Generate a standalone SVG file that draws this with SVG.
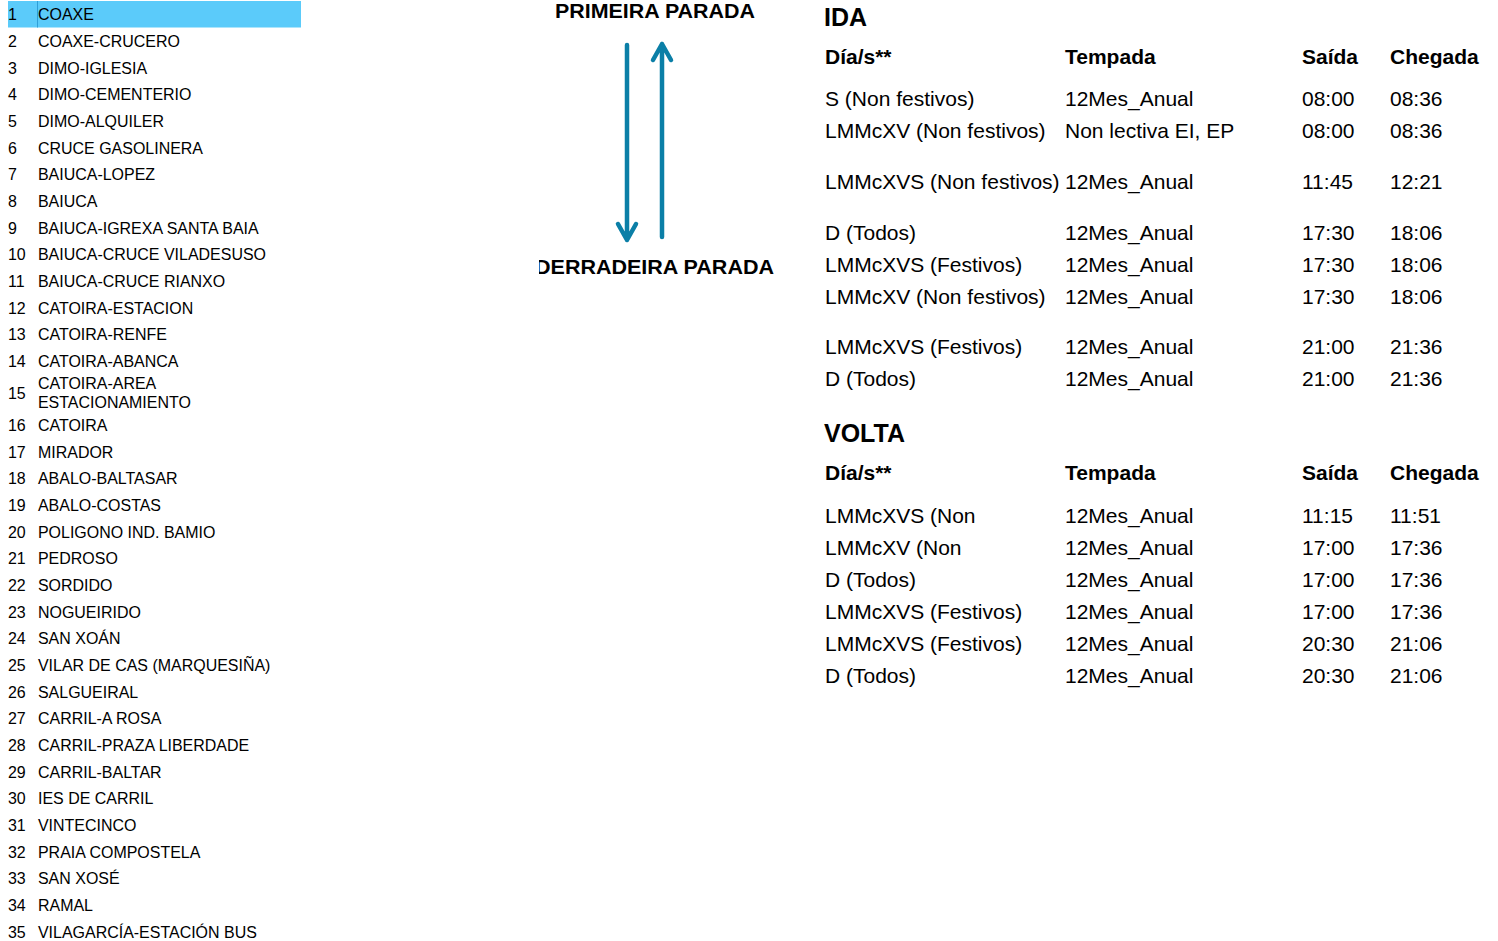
<svg xmlns="http://www.w3.org/2000/svg" width="1498" height="941" viewBox="0 0 1498 941">
<style>
.ls{font-family:"Liberation Sans",Arial,sans-serif;font-size:17px;fill:#000}
.t{font-family:"Liberation Sans",Arial,sans-serif;font-size:21px;fill:#000}
.h{font-family:"Liberation Sans",Arial,sans-serif;font-size:21px;font-weight:bold;fill:#000}
.ttl{font-family:"Liberation Sans",Arial,sans-serif;font-size:25px;font-weight:bold;fill:#000}
.lbl{font-family:"Liberation Sans",Arial,sans-serif;font-size:20px;font-weight:bold;fill:#000}
.arr{stroke:#0b7fa7;stroke-width:4.5;fill:none;stroke-linecap:round;stroke-linejoin:round}
</style>
<defs>
<clipPath id="clipL"><rect x="539" y="240" width="260" height="50"/></clipPath>
</defs>
<rect width="1498" height="941" fill="#fff"/>
<g id="stops">
<rect x="8" y="1" width="293" height="26.5" fill="#5bcbfa"/>
<line x1="37.5" y1="1" x2="37.5" y2="27.5" stroke="#2f9fd8" stroke-width="1"/>
<g transform="scale(0.94,1)">
<g class="ls">
<text x="8.5" y="20.5">1</text><text x="40.4" y="20.5">COAXE</text>
<text x="8.5" y="47.2">2</text><text x="40.4" y="47.2">COAXE-CRUCERO</text>
<text x="8.5" y="73.8">3</text><text x="40.4" y="73.8">DIMO-IGLESIA</text>
<text x="8.5" y="100.5">4</text><text x="40.4" y="100.5">DIMO-CEMENTERIO</text>
<text x="8.5" y="127.2">5</text><text x="40.4" y="127.2">DIMO-ALQUILER</text>
<text x="8.5" y="153.8">6</text><text x="40.4" y="153.8">CRUCE GASOLINERA</text>
<text x="8.5" y="180.5">7</text><text x="40.4" y="180.5">BAIUCA-LOPEZ</text>
<text x="8.5" y="207.2">8</text><text x="40.4" y="207.2">BAIUCA</text>
<text x="8.5" y="233.8">9</text><text x="40.4" y="233.8">BAIUCA-IGREXA SANTA BAIA</text>
<text x="8.5" y="260.5">10</text><text x="40.4" y="260.5">BAIUCA-CRUCE VILADESUSO</text>
<text x="8.5" y="287.2">11</text><text x="40.4" y="287.2">BAIUCA-CRUCE RIANXO</text>
<text x="8.5" y="313.8">12</text><text x="40.4" y="313.8">CATOIRA-ESTACION</text>
<text x="8.5" y="340.5">13</text><text x="40.4" y="340.5">CATOIRA-RENFE</text>
<text x="8.5" y="367.2">14</text><text x="40.4" y="367.2">CATOIRA-ABANCA</text>
<text x="8.5" y="399.5">15</text><text x="40.4" y="389">CATOIRA-AREA</text><text x="40.4" y="408">ESTACIONAMIENTO</text>
<text x="8.5" y="431">16</text><text x="40.4" y="431">CATOIRA</text>
<text x="8.5" y="457.7">17</text><text x="40.4" y="457.7">MIRADOR</text>
<text x="8.5" y="484.4">18</text><text x="40.4" y="484.4">ABALO-BALTASAR</text>
<text x="8.5" y="511">19</text><text x="40.4" y="511">ABALO-COSTAS</text>
<text x="8.5" y="537.7">20</text><text x="40.4" y="537.7">POLIGONO IND. BAMIO</text>
<text x="8.5" y="564.4">21</text><text x="40.4" y="564.4">PEDROSO</text>
<text x="8.5" y="591">22</text><text x="40.4" y="591">SORDIDO</text>
<text x="8.5" y="617.7">23</text><text x="40.4" y="617.7">NOGUEIRIDO</text>
<text x="8.5" y="644.4">24</text><text x="40.4" y="644.4">SAN XOÁN</text>
<text x="8.5" y="671">25</text><text x="40.4" y="671">VILAR DE CAS (MARQUESIÑA)</text>
<text x="8.5" y="697.7">26</text><text x="40.4" y="697.7">SALGUEIRAL</text>
<text x="8.5" y="724.4">27</text><text x="40.4" y="724.4">CARRIL-A ROSA</text>
<text x="8.5" y="751">28</text><text x="40.4" y="751">CARRIL-PRAZA LIBERDADE</text>
<text x="8.5" y="777.7">29</text><text x="40.4" y="777.7">CARRIL-BALTAR</text>
<text x="8.5" y="804.4">30</text><text x="40.4" y="804.4">IES DE CARRIL</text>
<text x="8.5" y="831">31</text><text x="40.4" y="831">VINTECINCO</text>
<text x="8.5" y="857.7">32</text><text x="40.4" y="857.7">PRAIA COMPOSTELA</text>
<text x="8.5" y="884.4">33</text><text x="40.4" y="884.4">SAN XOSÉ</text>
<text x="8.5" y="911">34</text><text x="40.4" y="911">RAMAL</text>
<text x="8.5" y="937.7">35</text><text x="40.4" y="937.7">VILAGARCÍA-ESTACIÓN BUS</text>
</g>
</g>
</g>
<g id="direction">
<text class="lbl" x="555" y="18" textLength="200" lengthAdjust="spacingAndGlyphs">PRIMEIRA PARADA</text>
<g clip-path="url(#clipL)"><text class="lbl" x="535" y="274" textLength="239" lengthAdjust="spacingAndGlyphs">DERRADEIRA PARADA</text></g>
</g>
<g id="connectors">
<path class="arr" d="M627 45 V240 M618 224 L627 240 L636 224"/>
<path class="arr" d="M662 237 V44 M653 60 L662 44 L671 60"/>
</g>
<g id="ida">
<text class="ttl" x="824" y="26">IDA</text>
<g class="h"><text x="825" y="64">Día/s**</text><text x="1065" y="64">Tempada</text><text x="1302" y="64">Saída</text><text x="1390" y="64">Chegada</text></g>
<g class="t">
<text x="825" y="106">S (Non festivos)</text><text x="1065" y="106">12Mes_Anual</text><text x="1302" y="106">08:00</text><text x="1390" y="106">08:36</text>
<text x="825" y="138">LMMcXV (Non festivos)</text><text x="1065" y="138">Non lectiva EI, EP</text><text x="1302" y="138">08:00</text><text x="1390" y="138">08:36</text>
<text x="825" y="189">LMMcXVS (Non festivos)</text><text x="1065" y="189">12Mes_Anual</text><text x="1302" y="189">11:45</text><text x="1390" y="189">12:21</text>
<text x="825" y="240">D (Todos)</text><text x="1065" y="240">12Mes_Anual</text><text x="1302" y="240">17:30</text><text x="1390" y="240">18:06</text>
<text x="825" y="272">LMMcXVS (Festivos)</text><text x="1065" y="272">12Mes_Anual</text><text x="1302" y="272">17:30</text><text x="1390" y="272">18:06</text>
<text x="825" y="304">LMMcXV (Non festivos)</text><text x="1065" y="304">12Mes_Anual</text><text x="1302" y="304">17:30</text><text x="1390" y="304">18:06</text>
<text x="825" y="354">LMMcXVS (Festivos)</text><text x="1065" y="354">12Mes_Anual</text><text x="1302" y="354">21:00</text><text x="1390" y="354">21:36</text>
<text x="825" y="386">D (Todos)</text><text x="1065" y="386">12Mes_Anual</text><text x="1302" y="386">21:00</text><text x="1390" y="386">21:36</text>
</g>
</g>
<g id="volta">
<text class="ttl" x="824" y="442">VOLTA</text>
<g class="h"><text x="825" y="480">Día/s**</text><text x="1065" y="480">Tempada</text><text x="1302" y="480">Saída</text><text x="1390" y="480">Chegada</text></g>
<g class="t">
<text x="825" y="523">LMMcXVS (Non</text><text x="1065" y="523">12Mes_Anual</text><text x="1302" y="523">11:15</text><text x="1390" y="523">11:51</text>
<text x="825" y="555">LMMcXV (Non</text><text x="1065" y="555">12Mes_Anual</text><text x="1302" y="555">17:00</text><text x="1390" y="555">17:36</text>
<text x="825" y="587">D (Todos)</text><text x="1065" y="587">12Mes_Anual</text><text x="1302" y="587">17:00</text><text x="1390" y="587">17:36</text>
<text x="825" y="619">LMMcXVS (Festivos)</text><text x="1065" y="619">12Mes_Anual</text><text x="1302" y="619">17:00</text><text x="1390" y="619">17:36</text>
<text x="825" y="651">LMMcXVS (Festivos)</text><text x="1065" y="651">12Mes_Anual</text><text x="1302" y="651">20:30</text><text x="1390" y="651">21:06</text>
<text x="825" y="683">D (Todos)</text><text x="1065" y="683">12Mes_Anual</text><text x="1302" y="683">20:30</text><text x="1390" y="683">21:06</text>
</g>
</g>
</svg>
